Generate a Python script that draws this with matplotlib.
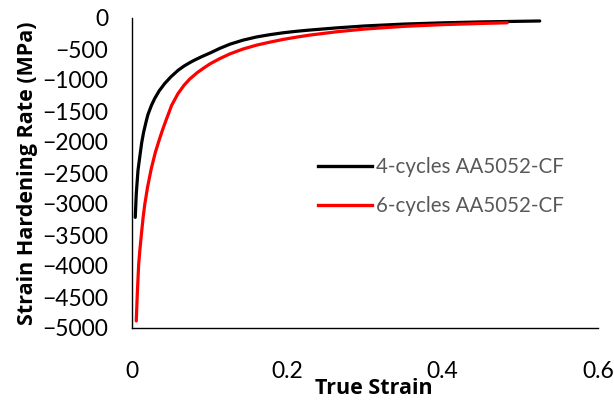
import matplotlib.pyplot as plt
from matplotlib.lines import Line2D

plt.rcParams['font.family'] = ['Lato', 'DejaVu Sans']

# 4-cycles AA5052-CF
strain_4 = [0.0042, 0.0055, 0.0077, 0.0100, 0.0125, 0.0150, 0.0184, 0.0206, 0.0250,
            0.0292, 0.0350, 0.0421, 0.0500, 0.0592, 0.0670, 0.0747, 0.0807, 0.0900,
            0.1004, 0.1130, 0.1262, 0.1430, 0.1606, 0.1780, 0.1948, 0.2120, 0.2292,
            0.2650, 0.3000, 0.3500, 0.4000, 0.4500, 0.5250]
rate_4 = [-3215, -2836, -2459, -2240, -2010, -1840, -1660, -1555, -1410,
          -1299, -1175, -1057, -950, -845, -775, -718, -678, -622,
          -565, -490, -422, -357, -305, -268, -238, -214, -194,
          -158, -128, -98, -78, -63, -48]

# 6-cycles AA5052-CF
strain_6 = [0.0055, 0.0068, 0.0086, 0.0103, 0.0120, 0.0142, 0.0164, 0.0200, 0.0248,
            0.0300, 0.0357, 0.0400, 0.0438, 0.0510, 0.0592, 0.0670, 0.0743, 0.0841,
            0.0920, 0.1004, 0.1130, 0.1262, 0.1430, 0.1606, 0.1780, 0.1948, 0.2120,
            0.2292, 0.2650, 0.3000, 0.3500, 0.4000, 0.4500, 0.4830]
rate_6 = [-4886, -4454, -3969, -3720, -3500, -3230, -3010, -2730, -2430,
          -2170, -1940, -1780, -1650, -1410, -1220, -1085, -985, -880,
          -810, -740, -655, -578, -500, -437, -388, -345, -308,
          -275, -220, -178, -135, -107, -88, -77]

labels = ["4-cycles AA5052-CF", "6-cycles AA5052-CF"]
colors = ["black", "#ff0000"]

fig = plt.figure(figsize=(6.14, 4.05), dpi=100)
ax = fig.add_axes([132 / 614, 1 - 328 / 405, 466 / 614, 310 / 405])

ax.plot(strain_4, rate_4, color=colors[0], lw=2.3, solid_capstyle="round")
ax.plot(strain_6, rate_6, color=colors[1], lw=2.3, solid_capstyle="round")

ax.set_xlim(0, 0.6)
ax.set_ylim(-5000, 0)
ax.set_xticks([0, 0.2, 0.4, 0.6])
ax.set_xticklabels(["0", "0.2", "0.4", "0.6"])
ax.set_yticks(range(-5000, 1, 500))
ax.tick_params(axis="both", length=0, labelsize=16.5)
ax.tick_params(axis="x", pad=24)
ax.tick_params(axis="y", pad=17)
for side in ["top", "right"]:
    ax.spines[side].set_visible(False)
for side in ["left", "bottom"]:
    ax.spines[side].set_linewidth(1.0)

label_font = dict(family="Open Sans", fontsize=15.5, fontweight="bold")
fig.text(374 / 614, 1 - 389 / 405, "True Strain", ha="center", va="center", **label_font)
fig.text(28 / 614, 1 - 173 / 405, "Strain Hardening Rate (MPa)", ha="center", va="center",
         rotation=90, **label_font)

handles = [Line2D([], [], color=c, lw=2.4) for c in colors]
leg = fig.legend(handles, labels, loc="center left", bbox_to_anchor=(318 / 614, 1 - 186.5 / 405),
                 frameon=False, fontsize=14.8, handlelength=2.63, handletextpad=0.2,
                 labelspacing=0.95, borderpad=0, borderaxespad=0, labelcolor="#595959")

fig.savefig("out.png", dpi=100)
